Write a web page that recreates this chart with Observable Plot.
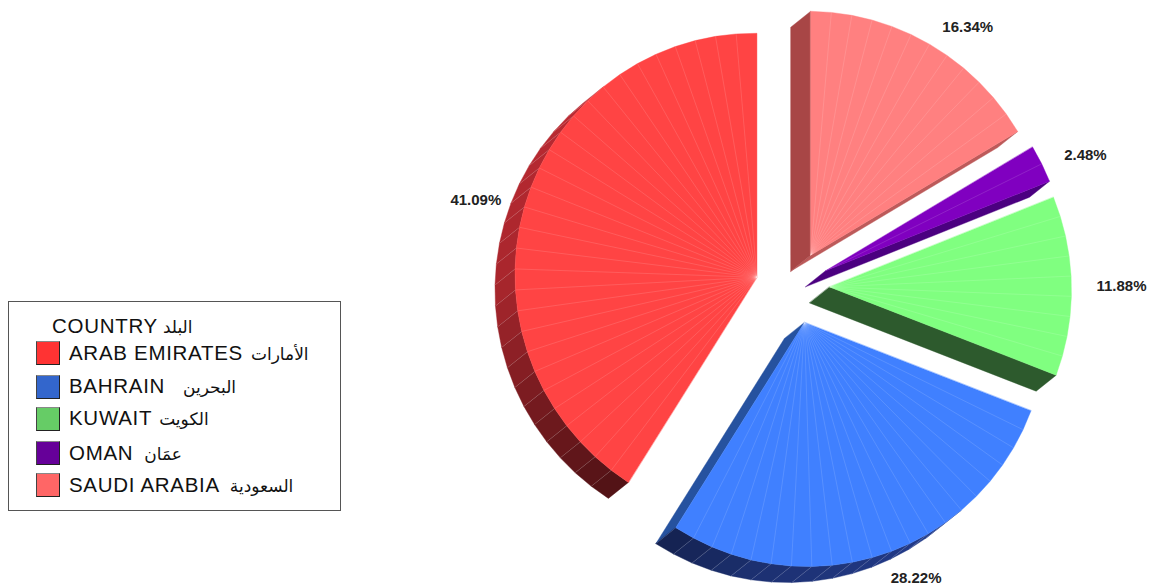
<!DOCTYPE html>
<html>
<head>
<meta charset="utf-8">
<script src="https://cdn.jsdelivr.net/npm/d3@7"></script>
<script src="https://cdn.jsdelivr.net/npm/@observablehq/plot@0.6"></script>
<style>
html,body{margin:0;padding:0;background:#fff}
#wrap{position:relative;width:1149px;height:588px;overflow:hidden}
#legend{position:absolute;left:8px;top:301px;width:331px;height:208px;border:1px solid #555;background:#fff;font-family:"Liberation Sans",Arial,sans-serif;color:#111}
#legend .t{position:absolute;white-space:nowrap;font-size:20.5px;line-height:24px;letter-spacing:.7px}
#legend .ar{font-family:"DejaVu Sans",sans-serif;font-size:17px;letter-spacing:0}
#legend .sw{position:absolute;left:27px;width:22px;height:22px;border:1px solid #222;border-top-color:#888;border-left-color:#444}
</style>
</head>
<body>
<div id="wrap"><div id="chart"></div><div id="legend"></div></div>
<script>
const countries = ["ARAB EMIRATES","BAHRAIN","KUWAIT","OMAN","SAUDI ARABIA"];
const arabicNames = ["الأمارات","البحرين","الكويت","عمَان","السعودية"];
const percents = [41.09,28.22,11.88,2.48,16.34];
const topColors = ["#ff4444","#4080ff","#80ff80","#8000c0","#ff8080"];
const legendColors = ["#ff3333","#3366cc","#66cc66","#660099","#ff6666"];
const startFaceColors = [null,"#26529f","#2d5a2d","#4b0080","#bd5a5a"];
const endFaceColors = [null,null,null,null,"#a84646"];
const legendTitle = "COUNTRY";
const legendTitleArabic = "البلد";

// pie geometry, in units of the pie radius
const R = 242, cx = 792, cy = 287;
const explode = 37 / R, depthX = -20 / R, depthY = 16 / R, labelR = 266 / R, stepDeg = 5;
const tiltA = 3 / R, tiltB = 2 / R;
const dir = t => { const a = t * Math.PI / 180; return [-Math.sin(a), -Math.cos(a)]; };
const rimShade = d3.scaleLinear().domain([40,90,120,148,170,218]).range([.74,.66,.46,.31,.44,.55]).clamp(true);
const total = d3.sum(percents);

const polys = [], tops = [], seams = [], labels = [];
let acc = 0, pid = 0;
const addPoly = (rows, pts, c) => { const id = pid++; pts.forEach(p => rows.push({id, x: p[0], y: p[1], c})); };
percents.forEach((p, i) => {
  const t0 = acc / total * 360, t1 = (acc + p) / total * 360; acc += p;
  const mid = dir((t0 + t1) / 2);
  const ax = mid[0] * explode, ay = mid[1] * explode;
  const apex = [ax, ay];
  const angles = [];
  const n = Math.max(1, Math.ceil((t1 - t0) / stepDeg));
  for (let k = 0; k <= n; k++) angles.push(t0 + (t1 - t0) * k / n);
  const outer = angles.map(t => { const d = dir(t); return [ax + d[0], ay + d[1] + tiltA * d[0] + tiltB * d[1]]; });
  const down = q => [q[0] + depthX, q[1] + depthY];
  const base = d3.color(topColors[i]);
  // radial side faces
  if (startFaceColors[i]) addPoly(polys, [apex, outer[0], down(outer[0]), down(apex)], startFaceColors[i]);
  if (endFaceColors[i]) addPoly(polys, [apex, outer[n], down(outer[n]), down(apex)], endFaceColors[i]);
  // curved rim
  for (let k = 0; k < n; k++) {
    const m = (angles[k] + angles[k+1]) / 2;
    if (m < 38.7 || m > 218.7) continue;
    const s = rimShade(m);
    const c = d3.rgb(base.r * s, base.g * s * .85, base.b * s).formatHex();
    addPoly(polys, [outer[k], outer[k+1], down(outer[k+1]), down(outer[k])], c);
    if (k > 0) { const q = down(outer[k]); seams.push({x1: outer[k][0], y1: outer[k][1], x2: q[0], y2: q[1]}); }
  }
  // top surface
  addPoly(tops, [apex, ...outer], topColors[i]);
  for (let k = 1; k < n; k++) seams.push({top: true, x1: ax, y1: ay, x2: outer[k][0], y2: outer[k][1]});
  labels.push({x: ax + mid[0] * labelR, y: ay + mid[1] * labelR, text: p.toFixed(2) + "%", left: mid[0] < 0});
});

const polyOpts = {x: "x", y: "y", z: "id", fill: "c", stroke: "c", strokeWidth: 0.4, curve: "linear-closed"};
const seamOpts = {x1: "x1", y1: "y1", x2: "x2", y2: "y2", stroke: "#fff", strokeOpacity: 0.22, strokeWidth: 0.6};
const labelOpts = {x: "x", y: "y", text: "text", fill: "#222", fontWeight: "bold", fontSize: 15, fontFamily: "Liberation Sans, Arial, sans-serif"};

const chart = Plot.plot({
  width: 1149, height: 588,
  marginTop: 0, marginRight: 0, marginBottom: 0, marginLeft: 0,
  x: {domain: [-cx / R, (1149 - cx) / R], range: [0, 1149], axis: null},
  y: {domain: [-cy / R, (588 - cy) / R], range: [0, 588], axis: null},
  style: {background: "transparent"},
  marks: [
    Plot.line(polys, polyOpts),
    Plot.link(seams.filter(d => !d.top), seamOpts),
    Plot.line(tops, polyOpts),
    Plot.link(seams.filter(d => d.top), seamOpts),
    Plot.text(labels.filter(d => d.left), {...labelOpts, textAnchor: "end", dy: -4}),
    Plot.text(labels.filter(d => !d.left), {...labelOpts, textAnchor: "start", dx: 1, dy: 3.5})
  ]
});
document.getElementById("chart").appendChild(chart);

// legend
const legend = document.getElementById("legend");
const rowTops = [39, 72, 104, 139, 171];
const swatchTops = [39, 73, 105, 139, 171];
const arabicGaps = [8, 18, 7, 11, 10];
const addText = (left, top, latin, ar, gap) => {
  const e = document.createElement("div");
  e.className = "t"; e.style.left = left + "px"; e.style.top = top + "px";
  e.appendChild(document.createTextNode(latin));
  const s = document.createElement("span"); s.className = "ar"; s.textContent = ar; s.style.marginLeft = gap + "px"; e.appendChild(s);
  legend.appendChild(e);
};
addText(43, 12, legendTitle, legendTitleArabic, 5);
countries.forEach((c, i) => {
  const sw = document.createElement("div");
  sw.className = "sw"; sw.style.top = swatchTops[i] + "px"; sw.style.background = legendColors[i];
  legend.appendChild(sw);
  addText(60, rowTops[i], c, arabicNames[i], arabicGaps[i]);
});
</script>
</body>
</html>
